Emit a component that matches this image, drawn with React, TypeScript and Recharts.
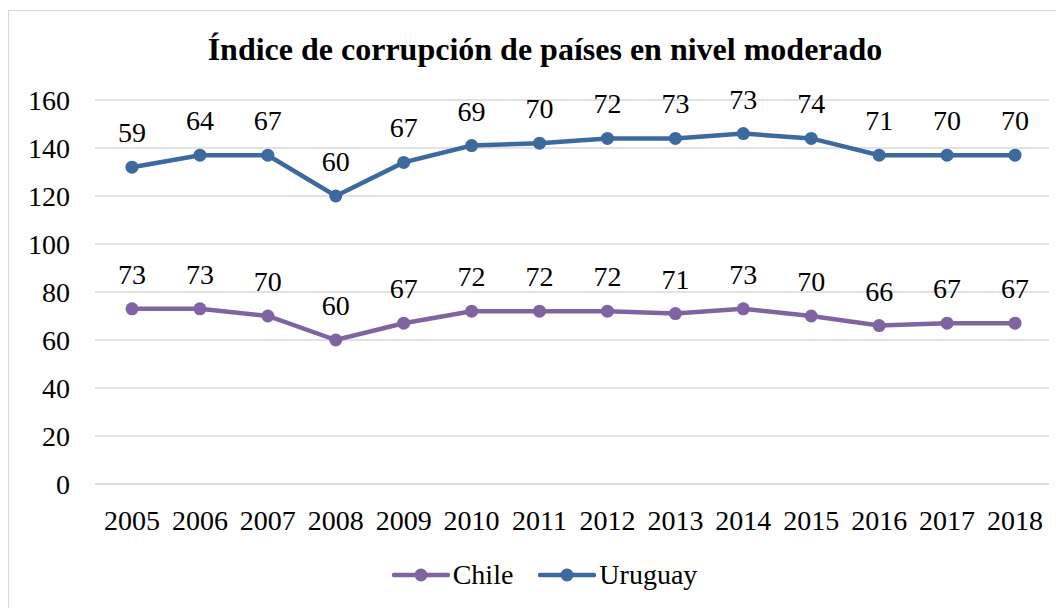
import React from "react";
import { LineChart, Line, XAxis, YAxis, CartesianGrid, LabelList, Legend } from "recharts";

const years = ["2005","2006","2007","2008","2009","2010","2011","2012","2013","2014","2015","2016","2017","2018"];
const chile = [73,73,70,60,67,72,72,72,71,73,70,66,67,67];
const uruguay = [59,64,67,60,67,69,70,72,73,73,74,71,70,70];
const yTicks = [0,20,40,60,80,100,120,140,160];

const CHILE_COLOR = "#8064A2";
const URU_COLOR = "#3C6A9E";
const FONT = "'Liberation Serif', 'Times New Roman', serif";

// stacked line chart (Excel style): Uruguay plotted on top of Chile
const data = years.map((y, i) => ({
  year: y,
  chile: chile[i],
  uruguay: uruguay[i],
  uruguayStack: chile[i] + uruguay[i],
}));

const legendItems = [
  { name: "Chile", color: CHILE_COLOR },
  { name: "Uruguay", color: URU_COLOR },
];

const LegendContent = () => (
  <div style={{ display: "flex", justifyContent: "center", alignItems: "center", fontFamily: FONT, fontSize: 28, color: "#000", marginLeft: 32, marginTop: 5 }}>
    {legendItems.map((it, i) => (
      <div key={it.name} style={{ display: "flex", alignItems: "center", marginLeft: i === 0 ? 0 : 25 }}>
        <svg width={58} height={16} style={{ marginRight: 3 }}>
          <line x1={2} y1={8} x2={56} y2={8} stroke={it.color} strokeWidth={4.5} strokeLinecap="round" />
          <circle cx={29} cy={8} r={6.5} fill={it.color} />
        </svg>
        <span>{it.name}</span>
      </div>
    ))}
  </div>
);

export default function App() {
  return (
    <div style={{ position: "relative", width: 1056, height: 600, background: "#fff", fontFamily: FONT }}>
      <div style={{ position: "absolute", left: 0, top: 2, width: 1100, height: 700, border: "1px solid #D9D9D9", boxSizing: "border-box" }} />
      <div style={{ position: "absolute", left: 0, top: 23, width: 1074, textAlign: "center", fontFamily: FONT, fontWeight: "bold", fontSize: 32, color: "#000" }}>
        Índice de corrupción de países en nivel moderado
      </div>
      <LineChart width={1056} height={600} data={data} margin={{ top: 92, right: 15, bottom: 0, left: 0 }}>
        <CartesianGrid vertical={false} stroke="#D9D9D9" strokeWidth={1.5} />
        <XAxis
          dataKey="year"
          padding={{ left: 37, right: 34 }}
          tickLine={false}
          axisLine={{ stroke: "#D9D9D9", strokeWidth: 1.5 }}
          tickSize={0}
          tickMargin={26}
          height={70}
          interval={0}
          tick={{ fill: "#000", fontFamily: FONT, fontSize: 28 }}
        />
        <YAxis
          width={87}
          domain={[0, 160]}
          ticks={yTicks}
          tickLine={false}
          axisLine={false}
          tickSize={0}
          tickMargin={25}
          tick={{ fill: "#000", fontFamily: FONT, fontSize: 28 }}
        />
        <Legend verticalAlign="bottom" height={54} content={<LegendContent />} />
        <Line
          type="linear"
          dataKey="chile"
          name="Chile"
          stroke={CHILE_COLOR}
          strokeWidth={4.5}
          dot={{ r: 6.5, fill: CHILE_COLOR, stroke: CHILE_COLOR, strokeWidth: 0 }}
          activeDot={false}
          isAnimationActive={false}
        >
          <LabelList dataKey="chile" position="top" offset={25} fill="#000" fontFamily={FONT} fontSize={28} />
        </Line>
        <Line
          type="linear"
          dataKey="uruguayStack"
          name="Uruguay"
          stroke={URU_COLOR}
          strokeWidth={4.5}
          dot={{ r: 6.5, fill: URU_COLOR, stroke: URU_COLOR, strokeWidth: 0 }}
          activeDot={false}
          isAnimationActive={false}
        >
          <LabelList dataKey="uruguay" position="top" offset={25} fill="#000" fontFamily={FONT} fontSize={28} />
        </Line>
      </LineChart>
    </div>
  );
}
